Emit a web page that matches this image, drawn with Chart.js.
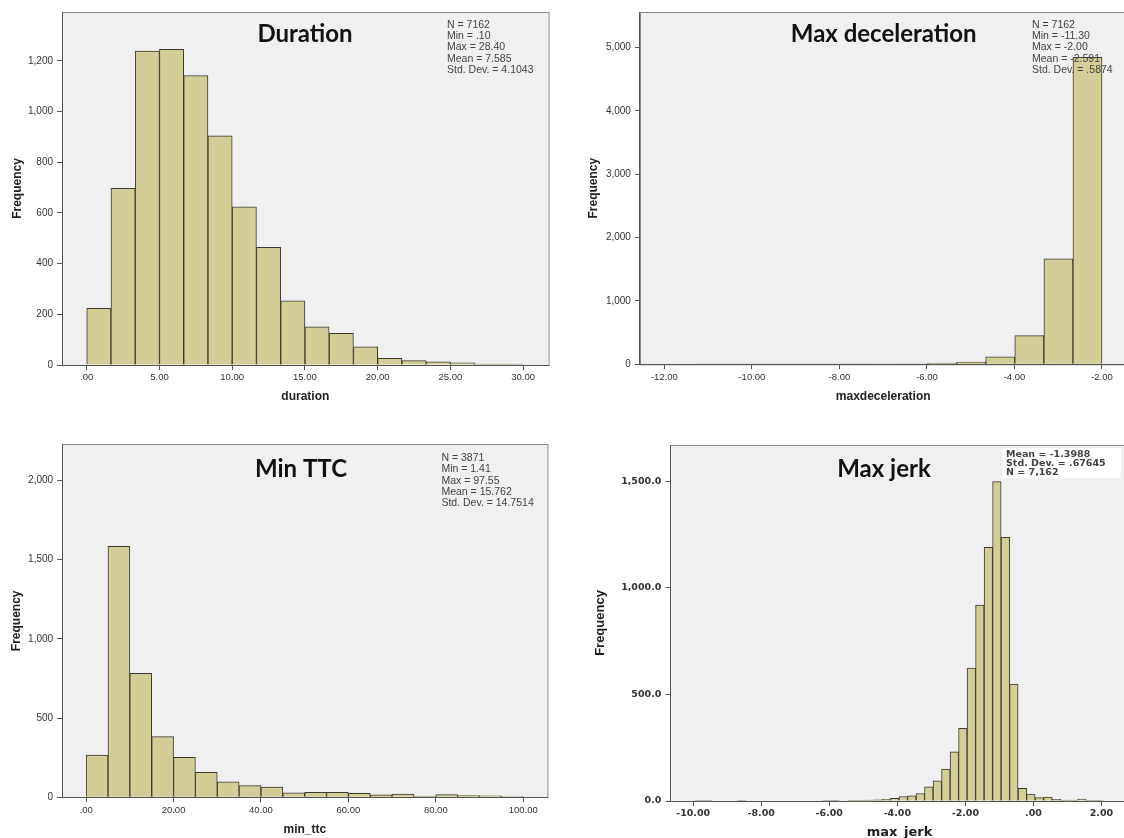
<!DOCTYPE html>
<html lang="en">
<head>
<meta charset="UTF-8">
<title>Histograms</title>
<script src="https://cdn.jsdelivr.net/npm/chart.js"></script>
<style>
  html, body { margin: 0; padding: 0; background: #fff; overflow: hidden; width: 1124px; height: 838px; }
  .panel { position: absolute; }
</style>
</head>
<body>
<div class="panel" style="left:0;top:0;"><canvas id="c1" width="562" height="419"></canvas></div>
<div class="panel" style="left:562px;top:0;"><canvas id="c2" width="580" height="419"></canvas></div>
<div class="panel" style="left:0;top:419px;"><canvas id="c3" width="562" height="425"></canvas></div>
<div class="panel" style="left:562px;top:419px;"><canvas id="c4" width="580" height="425"></canvas></div>
<script>
// --- duration ---
const durationBins = [0.833, 2.5, 4.167, 5.833, 7.5, 9.167, 10.833, 12.5, 14.167, 15.833, 17.5, 19.167, 20.833, 22.5, 24.167, 25.833, 27.5, 29.167];
const durationCounts = [224, 697, 1239, 1246, 1142, 904, 624, 464, 253, 151, 125, 72, 26, 17, 13, 9, 4, 4];
const durationXTicks = [0, 5, 10, 15, 20, 25, 30];
const durationYTicks = [0, 200, 400, 600, 800, 1000, 1200];
const durationStats = ['N = 7162', 'Min = .10', 'Max = 28.40', 'Mean = 7.585', 'Std. Dev. = 4.1043'];

// --- max deceleration ---
const decelBins = [-10.968, -10.304, -9.639, -8.975, -8.311, -7.646, -6.982, -6.318, -5.654, -4.989, -4.325, -3.661, -2.996, -2.332];
const decelCounts = [3, 1, 1, 3, 1, 4, 3, 8, 18, 37, 116, 453, 1667, 4847];
const decelXTicks = [-12, -10, -8, -6, -4, -2];
const decelYTicks = [0, 1000, 2000, 3000, 4000, 5000];
const decelStats = ['N = 7162', 'Min = -11.30', 'Max = -2.00', 'Mean = -2.591', 'Std. Dev. = .5874'];

// --- min ttc ---
const ttcBins = [2.5, 7.5, 12.5, 17.5, 22.5, 27.5, 32.5, 37.5, 42.5, 47.5, 52.5, 57.5, 62.5, 67.5, 72.5, 77.5, 82.5, 87.5, 92.5, 97.5];
const ttcCounts = [267, 1585, 783, 383, 253, 158, 97, 74, 65, 29, 32, 32, 25, 15, 21, 8, 17, 11, 10, 4];
const ttcXTicks = [0, 20, 40, 60, 80, 100];
const ttcYTicks = [0, 500, 1000, 1500, 2000];
const ttcStats = ['N = 3871', 'Min = 1.41', 'Max = 97.55', 'Mean = 15.762', 'Std. Dev. = 14.7514'];

// --- max jerk ---
const jerkBins = [-9.825, -9.575, -8.575, -6.075, -5.825, -5.325, -5.075, -4.825, -4.575, -4.325, -4.075, -3.825, -3.575, -3.325, -3.075, -2.825, -2.575, -2.325, -2.075, -1.825, -1.575, -1.325, -1.075, -0.825, -0.575, -0.325, -0.075, 0.175, 0.425, 0.675, 0.925, 1.175, 1.425, 1.675, 1.925];
const jerkCounts = [1, 1, 1, 2, 2, 3, 3, 4, 6, 8, 12, 21, 24, 35, 66, 95, 150, 231, 341, 623, 919, 1189, 1497, 1236, 548, 59, 32, 16, 18, 8, 4, 4, 9, 2, 1];
const jerkXTicks = [-10, -8, -6, -4, -2, 0, 2];
const jerkYTicks = [0, 500, 1000, 1500];
const jerkStats = ['Mean = -1.3988', 'Std. Dev. = .67645', 'N = 7,162'];

const BAR_FILL = '#d3ce97';
const BAR_LINE = '#3a3a30';

function fmtX(v) { return v.toFixed(2).replace(/^(-?)0\./, '$1.'); }
function fmtY(v) { return v.toLocaleString('en-US'); }
function fmtY1(v) { return v.toLocaleString('en-US', { minimumFractionDigits: 1, maximumFractionDigits: 1 }); }

const panelDeco = {
  id: 'panelDeco',
  beforeDraw(chart) {
    const { ctx, chartArea: a } = chart;
    ctx.save();
    ctx.fillStyle = '#f0f0f0';
    ctx.fillRect(a.left, a.top, a.right - a.left, a.bottom - a.top);
    ctx.strokeStyle = '#8a8a8a';
    ctx.lineWidth = 1;
    ctx.strokeRect(Math.round(a.left) + 0.5, Math.round(a.top) + 0.5, a.right - a.left, a.bottom - a.top);
    ctx.restore();
  },
  afterDatasetsDraw(chart, args, o) {
    const ctx = chart.ctx;
    ctx.save();
    ctx.fillStyle = '#111';
    ctx.font = 'bold 24px Lato';
    ctx.textAlign = 'center';
    ctx.textBaseline = 'alphabetic';
    ctx.fillText(o.title, o.titleX, o.titleY);
    if (o.box) {
      ctx.fillStyle = '#fff';
      ctx.fillRect(o.box[0], o.box[1], o.box[2], o.box[3]);
    }
    ctx.fillStyle = o.statsColor;
    ctx.font = o.statsFont;
    ctx.textAlign = 'left';
    ctx.textBaseline = 'middle';
    o.stats.forEach((s, i) => ctx.fillText(s, o.statsX, o.statsY + i * o.statsStep));
    ctx.restore();
  }
};

function makeHist(id, p) {
  const tickFont = p.tickFont || { family: 'Liberation Sans', size: 9.5 };
  return new Chart(document.getElementById(id), {
    type: 'bar',
    data: {
      datasets: [{
        data: p.bins.map((x, i) => ({ x: x, y: p.counts[i] })),
        backgroundColor: BAR_FILL,
        borderColor: BAR_LINE,
        borderWidth: 1,
        barPercentage: 1,
        categoryPercentage: 1
      }]
    },
    options: {
      responsive: false,
      animation: false,
      events: [],
      layout: { padding: { top: p.padTop, right: p.padRight, left: 0, bottom: 0 } },
      plugins: {
        legend: { display: false },
        tooltip: { enabled: false },
        panelDeco: {
          title: p.title, titleX: p.titleX, titleY: p.titleY,
          stats: p.stats, statsX: p.statsX, statsY: p.statsY, statsStep: p.statsStep,
          statsFont: p.statsFont || '10.5px "Liberation Sans"', statsColor: p.statsColor || '#444',
          box: p.box || null
        }
      },
      scales: {
        x: {
          type: 'linear', min: p.xMin, max: p.xMax, offset: false, bounds: 'data',
          afterBuildTicks: s => { s.ticks = p.xTicks.map(v => ({ value: v })); },
          afterFit: s => { s.height = p.xHeight; },
          grid: { offset: false, drawOnChartArea: false, drawTicks: true, tickLength: 5, color: '#555' },
          border: { color: '#555' },
          ticks: { font: tickFont, color: '#333', padding: 2, maxRotation: 0, autoSkip: false, callback: v => fmtX(v) },
          title: { display: true, text: p.xTitle, color: '#222', font: p.xTitleFont || { family: 'Liberation Sans', size: 12, weight: 'bold' }, padding: { top: 0, bottom: p.xTitlePad } }
        },
        y: {
          min: 0, max: p.yMax, bounds: 'data',
          afterBuildTicks: s => { s.ticks = p.yTicks.map(v => ({ value: v })); },
          afterFit: s => { s.width = p.yWidth; },
          grid: { drawOnChartArea: false, drawTicks: true, tickLength: 5, color: '#555' },
          border: { color: '#555' },
          ticks: { font: p.yTickFont || { family: 'Liberation Sans', size: 10 }, color: '#333', padding: 4, autoSkip: false, callback: p.yFmt || (v => fmtY(v)) },
          title: { display: true, text: 'Frequency', color: '#222', font: { family: 'Liberation Sans', size: p.yTitleSize || 12, weight: 'bold' }, padding: { top: p.yTitlePad, bottom: 0 } }
        }
      }
    },
    plugins: [panelDeco]
  });
}

makeHist('c1', {
  bins: durationBins, counts: durationCounts, xTicks: durationXTicks, yTicks: durationYTicks,
  xMin: -1.7, xMax: 31.75, yMax: 1393,
  padTop: 12, padRight: 13.4, yWidth: 62, xHeight: 54, yTitlePad: 10, xTitlePad: 15,
  xTitle: 'duration', title: 'Duration', titleX: 305, titleY: 41.7,
  stats: durationStats, statsX: 447, statsY: 24.8, statsStep: 11.3
});

makeHist('c2', {
  bins: decelBins, counts: decelCounts, xTicks: decelXTicks, yTicks: decelYTicks,
  xMin: -12.56, xMax: -1.44, yMax: 5563,
  padTop: 12, padRight: 15.5, yWidth: 77.9, xHeight: 54.7, yTitlePad: 24.8, xTitlePad: 15.3,
  xTitle: 'maxdeceleration', title: 'Max deceleration', titleX: 321.7, titleY: 41.7,
  stats: decelStats, statsX: 470, statsY: 24.8, statsStep: 11.3
});

makeHist('c3', {
  bins: ttcBins, counts: ttcCounts, xTicks: ttcXTicks, yTicks: ttcYTicks,
  xMin: -5.5, xMax: 105.56, yMax: 2229,
  padTop: 25.3, padRight: 14.5, yWidth: 62.1, xHeight: 46.7, yTitlePad: 9.5, xTitlePad: 6.8,
  xTitle: 'min_ttc', title: 'Min TTC', titleX: 301, titleY: 58.3,
  stats: ttcStats, statsX: 441.4, statsY: 39.3, statsStep: 11.3
});

makeHist('c4', {
  bins: jerkBins, counts: jerkCounts, xTicks: jerkXTicks, yTicks: jerkYTicks,
  xMin: -10.67, xMax: 2.8, yMax: 1669,
  padTop: 26, padRight: 13.3, yWidth: 108.4, xHeight: 43, yTitlePad: 30.5, xTitlePad: 3.9, yTitleSize: 13,
  tickFont: { family: 'DejaVu Sans', size: 9.5, weight: 'bold' },
  yTickFont: { family: 'DejaVu Sans', size: 9.5, weight: 'bold' },
  yFmt: v => fmtY1(v),
  xTitle: 'max_jerk', xTitleFont: { family: 'DejaVu Sans', size: 13, weight: 'bold' },
  title: 'Max jerk', titleX: 322, titleY: 58.3,
  stats: jerkStats, statsX: 444, statsY: 35.3, statsStep: 9,
  statsFont: 'bold 9.5px "DejaVu Sans"', statsColor: '#444',
  box: [440.4, 29.3, 118.6, 30]
});
</script>
</body>
</html>
